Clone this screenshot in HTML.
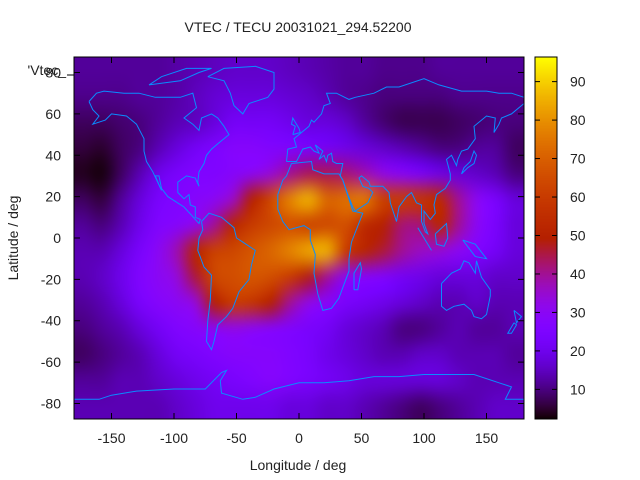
<!DOCTYPE html>
<html><head><meta charset="utf-8"><style>
body{margin:0;background:#fff;}
#wrap{position:relative;width:640px;height:480px;font-family:"Liberation Sans",sans-serif;}
svg{position:absolute;left:0;top:0;}
canvas{position:absolute;}
</style></head><body>
<div id="wrap">
<canvas id="heat" style="left:74px;top:57px" width="450" height="362"></canvas>
<canvas id="cbar" style="left:535px;top:57px" width="22" height="362"></canvas>
<svg id="svg" width="640" height="480"></svg>
</div>
<script>
const lonCenters=[-172.5,-157.5,-142.5,-127.5,-112.5,-97.5,-82.5,-67.5,-52.5,-37.5,-22.5,-7.5,7.5,22.5,37.5,52.5,67.5,82.5,97.5,112.5,127.5,142.5,157.5,172.5];
const latCenters=[81.25,68.75,56.25,43.75,31.25,18.75,6.25,-6.25,-18.75,-31.25,-43.75,-56.25,-68.75,-81.25];
const row1=[12,12,12,12,12,13,14,15,16,16,16,15,14,13,12,12,11,11,11,12,12,12,12,12];
const row2=[11,11,11,12,12,13,15,17,18,18,18,17,16,14,12,11,10,10,10,10,11,11,11,11];
const row3=[8,8,9,10,12,14,15,18,22,22,22,20,18,18,16,12,9,7,7,7,8,9,10,10];
const row4=[6,5,8,10,14,18,22,25,28,28,26,25,24,22,20,18,16,14,12,10,10,12,12,8];
const row5=[4,3,8,14,20,24,26,26,28,30,34,40,44,44,42,38,32,28,24,20,18,16,14,10];
const row6=[8,6,12,18,24,26,28,30,36,50,64,78,86,72,74,76,62,60,58,54,40,30,24,18];
const row7=[12,10,14,20,26,28,32,40,52,60,64,66,62,64,66,54,50,42,42,52,40,30,24,18];
const row8=[14,14,18,24,30,38,52,62,64,68,72,78,84,86,60,52,46,40,36,34,30,26,22,18];
const row9=[14,16,20,26,30,34,46,64,66,68,66,60,48,40,30,28,26,22,20,18,18,18,16,16];
const row10=[12,14,18,24,28,30,34,50,60,58,50,40,32,28,24,22,20,18,16,14,14,16,14,14];
const row11=[10,12,14,18,22,26,28,30,32,30,28,26,24,22,18,16,14,10,10,12,14,12,12,14];
const row12=[8,10,12,14,18,22,24,26,28,28,28,26,24,20,18,16,14,14,16,16,14,14,14,12];
const row13=[12,12,14,14,16,18,20,22,24,26,28,26,24,22,20,18,18,18,18,18,16,14,14,14];
const row14=[14,14,14,14,14,16,18,20,20,20,20,18,18,16,16,14,12,10,8,10,12,14,16,16];
const tecRows=[row1,row2,row3,row4,row5,row6,row7,row8,row9,row10,row11,row12,row13,row14];
const xTicks=[-150,-100,-50,0,50,100,150];
const yTicks=[-80,-60,-40,-20,0,20,40,60,80];
const cbTicks=[10,20,30,40,50,60,70,80,90];
const CBMIN=2.3,CBMAX=96.4;
const PL=74,PR=524,PT=57,PB=419;
const X=lon=>PL+(lon+180)/360*(PR-PL);
const Y=lat=>PT+(87.5-lat)/175*(PB-PT);
const CY=v=>PB-(v-CBMIN)/(CBMAX-CBMIN)*(PB-PT);
function pal(v){let x=Math.max(0,Math.min(1,(v-CBMIN)/(CBMAX-CBMIN)));
 let r=Math.sqrt(x),g=x*x*x,b=Math.max(0,Math.sin(2*Math.PI*x));
 return [Math.round(r*255),Math.round(g*255),Math.round(b*255)];}
const small=document.createElement('canvas');small.width=lonCenters.length;small.height=latCenters.length;
const sc=small.getContext('2d');const id=sc.createImageData(small.width,small.height);
tecRows.forEach((row,j)=>row.forEach((v,i)=>{const c=pal(v);const k=(j*small.width+i)*4;id.data[k]=c[0];id.data[k+1]=c[1];id.data[k+2]=c[2];id.data[k+3]=255;}));
sc.putImageData(id,0,0);
const hc=document.getElementById('heat').getContext('2d');hc.imageSmoothingEnabled=true;hc.imageSmoothingQuality='high';
hc.drawImage(small,0,0,450,362);
const cc=document.getElementById('cbar').getContext('2d');
for(let y=0;y<362;y++){const v=CBMAX-(y/362)*(CBMAX-CBMIN);const c=pal(v);cc.fillStyle=`rgb(${c[0]},${c[1]},${c[2]})`;cc.fillRect(0,y,22,1);}
const svg=document.getElementById('svg');const NS='http://www.w3.org/2000/svg';
function mk(t,a,txt){const e=document.createElementNS(NS,t);for(const k in a)e.setAttribute(k,a[k]);if(txt!==undefined)e.textContent=txt;svg.appendChild(e);return e;}
const coasts=[
[[-168,66],[-162,70],[-156,71],[-140,70],[-128,70],[-115,68],[-95,68],[-85,70],[-82,63],[-92,58],[-85,55],[-80,52],[-78,58],[-70,60],[-65,58],[-60,54],[-56,50],[-64,46],[-70,43],[-74,40],[-76,36],[-80,32],[-81,27],[-80,25],[-83,29],[-90,30],[-97,27],[-97,22],[-92,19],[-88,21],[-87,16],[-83,15],[-83,10],[-79,9],[-80,7],[-86,11],[-92,15],[-105,20],[-110,24],[-112,30],[-115,30],[-110,23],[-117,32],[-122,37],[-124,42],[-124,48],[-130,55],[-138,59],[-150,60],[-155,57],[-165,55],[-160,59],[-165,62],[-168,66]],
[[-73,78],[-60,82],[-35,83],[-20,80],[-20,72],[-25,68],[-40,65],[-45,60],[-52,64],[-55,70],[-60,76],[-73,78]],
[[-120,74],[-95,76],[-80,80],[-70,82],[-90,82],[-110,78],[-120,74]],
[[-78,8],[-72,12],[-62,10],[-52,5],[-50,0],[-45,-2],[-35,-6],[-38,-13],[-40,-20],[-48,-26],[-53,-34],[-58,-38],[-65,-42],[-68,-50],[-70,-54],[-74,-50],[-73,-40],[-71,-30],[-70,-18],[-76,-14],[-81,-6],[-80,0],[-77,4],[-78,8]],
[[-6,36],[10,37],[11,33],[20,31],[32,31],[35,28],[43,13],[51,12],[42,-2],[40,-10],[40,-16],[35,-24],[32,-29],[26,-34],[19,-35],[15,-27],[12,-17],[13,-8],[9,-1],[9,4],[4,6],[-8,4],[-13,8],[-17,14],[-17,21],[-13,28],[-10,30],[-6,36]],
[[-10,37],[-9,43],[-2,44],[-4,48],[2,51],[8,54],[10,57],[12,56],[18,60],[20,64],[25,65],[22,70],[30,70],[40,67],[45,68],[60,70],[70,73],[80,73],[100,77],[112,74],[130,71],[150,71],[160,70],[170,70],[180,68]],
[[180,65],[170,60],[162,58],[160,55],[156,51],[157,58],[150,59],[140,54],[141,48],[135,43],[130,42],[127,38],[126,35],[122,40],[118,38],[121,31],[121,28],[117,24],[110,21],[108,16],[109,12],[105,9],[100,13],[100,7],[103,2],[101,3],[98,8],[98,16],[94,17],[90,22],[86,20],[80,15],[78,8],[73,17],[72,22],[67,25],[57,25],[56,27],[50,30],[48,29],[51,25],[56,24],[59,22],[55,17],[45,13],[43,15],[39,21],[35,28],[33,30],[35,36],[30,36],[27,37],[26,41],[23,40],[22,37],[20,40],[16,38],[19,42],[13,45],[16,41],[12,42],[9,44],[3,43],[-2,37],[-10,37]],
[[114,-22],[114,-33],[118,-35],[124,-33],[132,-32],[138,-35],[140,-38],[146,-39],[150,-37],[153,-28],[153,-25],[146,-19],[142,-11],[141,-17],[136,-12],[132,-11],[129,-15],[122,-17],[114,-22]],
[[-180,-78],[-160,-78],[-150,-76],[-130,-74],[-100,-73],[-75,-73],[-62,-65],[-58,-64],[-63,-69],[-62,-75],[-45,-78],[-35,-77],[-20,-73],[0,-70],[20,-70],[40,-69],[60,-67],[80,-67],[100,-66],[120,-66],[140,-66],[160,-70],[170,-72],[165,-78],[180,-78]],
[[-5,50],[1,51],[0,53],[-3,56],[-5,58],[-6,55],[-3,54],[-5,50]],
[[44,-25],[47,-25],[50,-15],[49,-12],[44,-17],[44,-25]],
[[130,31],[135,34],[140,36],[142,40],[140,42],[137,37],[132,34],[130,31]],
[[95,5],[106,-6],[100,0],[95,5]],[[109,2],[118,7],[119,0],[116,-4],[110,-3],[109,2]],
[[131,-1],[141,-3],[150,-10],[141,-9],[131,-1]],
[[172,-35],[178,-38],[174,-41],[172,-35]],[[172,-41],[174,-42],[170,-46],[167,-46],[172,-41]]
];
coasts.forEach(c=>{const p=mk('polyline',{points:c.map(q=>X(q[0]).toFixed(1)+','+Y(q[1]).toFixed(1)).join(' '),fill:'none',stroke:'#0a8cff','stroke-width':1});
});
let b=mk('rect',{x:PL,y:PT,width:PR-PL,height:PB-PT,fill:'none',stroke:'#000','stroke-width':1});
b=mk('rect',{x:535,y:PT,width:22,height:PB-PT,fill:'none',stroke:'#000','stroke-width':1});
const ts='font-size:14px;fill:#222;font-family:Liberation Sans,sans-serif';
xTicks.forEach(v=>{mk('line',{x1:X(v),x2:X(v),y1:PB,y2:PB-6,stroke:'#000'});mk('line',{x1:X(v),x2:X(v),y1:PT,y2:PT+6,stroke:'#000'});
 const t=mk('text',{x:X(v),y:443,'text-anchor':'middle',style:ts},String(v));});
yTicks.forEach(v=>{mk('line',{x1:PL,x2:PL+6,y1:Y(v),y2:Y(v),stroke:'#000'});mk('line',{x1:PR,x2:PR-6,y1:Y(v),y2:Y(v),stroke:'#000'});
 const t=mk('text',{x:61,y:Y(v)+5,'text-anchor':'end',style:ts},String(v));});
cbTicks.forEach(v=>{mk('line',{x1:535,x2:540,y1:CY(v),y2:CY(v),stroke:'#000'});mk('line',{x1:557,x2:552,y1:CY(v),y2:CY(v),stroke:'#000'});
 const t=mk('text',{x:570,y:CY(v)+5,style:ts},String(v));});
let t=mk('text',{x:298,y:32,'text-anchor':'middle',style:ts},'VTEC / TECU 20031021_294.52200');
t=mk('text',{x:298,y:470,'text-anchor':'middle',style:ts},'Longitude / deg');
t=mk('text',{x:18,y:238,'text-anchor':'middle',transform:'rotate(-90 18 238)',style:ts},'Latitude / deg');
t=mk('text',{x:66,y:75,'text-anchor':'end',style:ts},"'Vtec_");
mk('line',{x1:67,x2:74,y1:75,y2:75,stroke:'#000'});
</script>
</body></html>
